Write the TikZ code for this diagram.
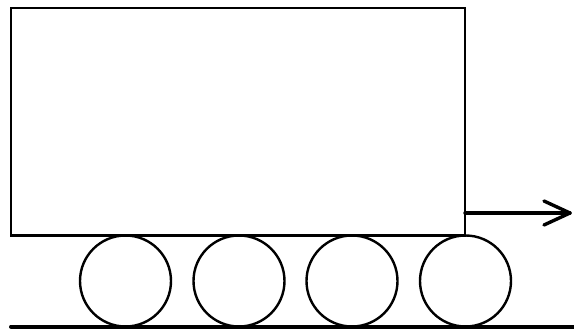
\documentclass[tikz,border=0pt]{standalone}
\usetikzlibrary{calc}
\begin{document}
\begin{tikzpicture}[x=1pt,y=-1pt,
  body/.style={draw=black,line width=2.6pt,minimum width=454pt,minimum height=227.5pt,inner sep=0pt,outer sep=0pt},
  roller/.style={draw=black,line width=2.4pt,circle,minimum size=91pt,inner sep=0pt,outer sep=0pt},
  push/.style={draw=black,line width=3.4pt,line cap=round,line join=round}]
\useasboundingbox (0,0) rectangle (574,329);
\node[body,anchor=north west] (box) at (11,8) {};
\node[roller] (r1) at (125.5,281) {};
\node[roller] (r2) at (239,281) {};
\node[roller] (r3) at (352,281) {};
\node[roller] (r4) at (465.5,281) {};
\coordinate (g1) at (11,326.5);
\coordinate (g2) at (574,326.5);
\draw[line width=4pt,line cap=round] (g1) -- (g2);
\coordinate (a0) at (box.south east |- 0,213);
\coordinate (tip) at (570,213);
\draw[push] (a0) -- (tip);
\draw[push] ($(tip)+(-26,-12)$) -- (tip) -- ($(tip)+(-26,12)$);
\end{tikzpicture}
\end{document}
